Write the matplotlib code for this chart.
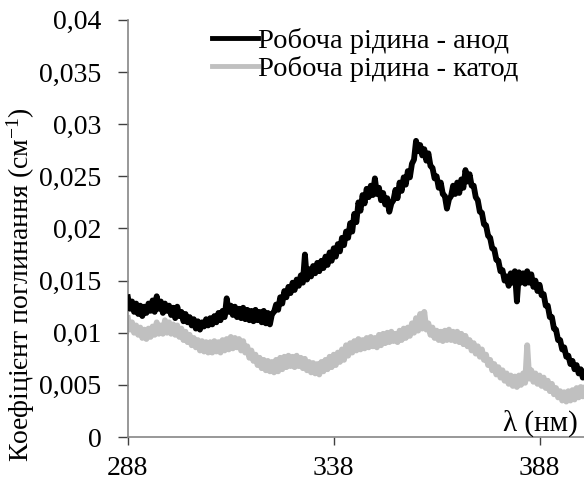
import numpy as np
import matplotlib
matplotlib.use("Agg")
import matplotlib.pyplot as plt

plt.rcParams['font.family'] = 'serif'
plt.rcParams['font.serif'] = ['Liberation Serif', 'DejaVu Serif']
plt.rcParams['mathtext.fontset'] = 'custom'
plt.rcParams['mathtext.rm'] = 'Liberation Serif'
plt.rcParams['mathtext.it'] = 'Liberation Serif:italic'
plt.rcParams['path.simplify'] = False
FONT = 'Liberation Serif'

wavelength = np.arange(288.0, 399.01, 0.5)

anode = [
    0.0134, 0.0123, 0.0130, 0.0120, 0.0128, 0.0118, 0.0126, 0.0116, 0.0125, 0.0119,
    0.0128, 0.0121, 0.0131, 0.0120, 0.0135, 0.0123, 0.0130, 0.0119, 0.0128, 0.0121,
    0.0126, 0.0117, 0.0124, 0.0114, 0.0125, 0.0116, 0.0120, 0.0111, 0.0118, 0.0110,
    0.0115, 0.0107, 0.0113, 0.0104, 0.0111, 0.0103, 0.0110, 0.0106, 0.0113, 0.0107,
    0.0114, 0.0108, 0.0116, 0.0110, 0.0119, 0.0112, 0.0121, 0.0115, 0.0133, 0.0120,
    0.0126, 0.0117, 0.0125, 0.0115, 0.0123, 0.0114, 0.0124, 0.0113, 0.0122, 0.0112,
    0.0121, 0.0111, 0.0122, 0.0112, 0.0120, 0.0110, 0.0121, 0.0109, 0.0119, 0.0108,
    0.0118, 0.0120, 0.0127, 0.0122, 0.0134, 0.0128, 0.0140, 0.0134, 0.0144, 0.0138,
    0.0148, 0.0141, 0.0151, 0.0145, 0.0155, 0.0148, 0.0175, 0.0151, 0.0161, 0.0154,
    0.0164, 0.0157, 0.0167, 0.0159, 0.0169, 0.0162, 0.0173, 0.0165, 0.0177, 0.0169,
    0.0181, 0.0173, 0.0185, 0.0178, 0.0191, 0.0184, 0.0197, 0.0191, 0.0205, 0.0197,
    0.0214, 0.0206, 0.0225, 0.0217, 0.0232, 0.0224, 0.0238, 0.0230, 0.0241, 0.0232,
    0.0248, 0.0233, 0.0239, 0.0227, 0.0234, 0.0223, 0.0229, 0.0216, 0.0224, 0.0227,
    0.0237, 0.0229, 0.0244, 0.0236, 0.0249, 0.0242, 0.0255, 0.0249, 0.0262, 0.0266,
    0.0284, 0.0274, 0.0280, 0.0270, 0.0276, 0.0265, 0.0272, 0.0260, 0.0258, 0.0248,
    0.0250, 0.0239, 0.0244, 0.0233, 0.0231, 0.0219, 0.0228, 0.0231, 0.0241, 0.0233,
    0.0244, 0.0234, 0.0247, 0.0239, 0.0256, 0.0245, 0.0252, 0.0241, 0.0241, 0.0230,
    0.0227, 0.0216, 0.0215, 0.0204, 0.0203, 0.0193, 0.0191, 0.0181, 0.0180, 0.0170,
    0.0169, 0.0159, 0.0160, 0.0150, 0.0154, 0.0145, 0.0157, 0.0148, 0.0159, 0.0130,
    0.0158, 0.0148, 0.0157, 0.0147, 0.0159, 0.0148, 0.0156, 0.0144, 0.0150, 0.0140,
    0.0146, 0.0136, 0.0137, 0.0126, 0.0126, 0.0115, 0.0115, 0.0104, 0.0103, 0.0093,
    0.0093, 0.0084, 0.0086, 0.0077, 0.0078, 0.0070, 0.0073, 0.0065, 0.0069, 0.0061,
    0.0065, 0.0057, 0.0062,
]

cathode = [
    0.0114, 0.0103, 0.0110, 0.0100, 0.0107, 0.0098, 0.0105, 0.0095, 0.0103, 0.0094,
    0.0104, 0.0096, 0.0106, 0.0098, 0.0110, 0.0099, 0.0107, 0.0099, 0.0112, 0.0100,
    0.0110, 0.0099, 0.0108, 0.0098, 0.0107, 0.0096, 0.0104, 0.0093, 0.0101, 0.0091,
    0.0098, 0.0088, 0.0095, 0.0086, 0.0093, 0.0083, 0.0092, 0.0082, 0.0091, 0.0081,
    0.0091, 0.0081, 0.0092, 0.0082, 0.0091, 0.0081, 0.0093, 0.0083, 0.0094, 0.0084,
    0.0096, 0.0085, 0.0095, 0.0086, 0.0094, 0.0083, 0.0092, 0.0081, 0.0087, 0.0076,
    0.0083, 0.0073, 0.0079, 0.0069, 0.0076, 0.0066, 0.0074, 0.0064, 0.0073, 0.0063,
    0.0072, 0.0062, 0.0074, 0.0063, 0.0076, 0.0065, 0.0077, 0.0067, 0.0078, 0.0068,
    0.0077, 0.0067, 0.0078, 0.0068, 0.0076, 0.0066, 0.0075, 0.0064, 0.0072, 0.0062,
    0.0071, 0.0061, 0.0070, 0.0060, 0.0072, 0.0063, 0.0074, 0.0065, 0.0077, 0.0067,
    0.0079, 0.0069, 0.0081, 0.0072, 0.0084, 0.0074, 0.0088, 0.0078, 0.0090, 0.0081,
    0.0092, 0.0083, 0.0094, 0.0084, 0.0093, 0.0085, 0.0095, 0.0086, 0.0096, 0.0087,
    0.0095, 0.0086, 0.0098, 0.0088, 0.0099, 0.0090, 0.0100, 0.0091, 0.0101, 0.0092,
    0.0099, 0.0091, 0.0102, 0.0093, 0.0104, 0.0095, 0.0105, 0.0097, 0.0109, 0.0100,
    0.0114, 0.0102, 0.0118, 0.0104, 0.0120, 0.0103, 0.0109, 0.0098, 0.0105, 0.0095,
    0.0102, 0.0093, 0.0101, 0.0092, 0.0102, 0.0093, 0.0103, 0.0093, 0.0101, 0.0092,
    0.0101, 0.0091, 0.0099, 0.0089, 0.0097, 0.0087, 0.0093, 0.0083, 0.0090, 0.0080,
    0.0087, 0.0077, 0.0084, 0.0074, 0.0079, 0.0069, 0.0074, 0.0064, 0.0070, 0.0060,
    0.0067, 0.0057, 0.0064, 0.0054, 0.0061, 0.0051, 0.0059, 0.0049, 0.0058, 0.0048,
    0.0059, 0.0050, 0.0061, 0.0052, 0.0088, 0.0056, 0.0064, 0.0053, 0.0061, 0.0051,
    0.0059, 0.0049, 0.0057, 0.0047, 0.0054, 0.0044, 0.0051, 0.0041, 0.0047, 0.0038,
    0.0044, 0.0035, 0.0043, 0.0034, 0.0044, 0.0035, 0.0045, 0.0036, 0.0047, 0.0038,
    0.0048, 0.0039, 0.0047,
]

series_labels = ["Робоча рідина - анод", "Робоча рідина - катод"]
x_ticks = [288, 338, 388]
y_ticks = [0, 0.005, 0.01, 0.015, 0.02, 0.025, 0.03, 0.035, 0.04]
y_tick_labels = ["0", "0,005", "0,01", "0,015", "0,02", "0,025", "0,03", "0,035", "0,04"]

fig = plt.figure(figsize=(5.84, 4.84), dpi=100)
ax = fig.add_axes([0.219, 0.097, 0.781, 0.862])

ax.plot(wavelength, cathode, color="#c0c0c0", lw=4.2, label=series_labels[1], zorder=2)
ax.plot(wavelength, anode, color="black", lw=4.2, label=series_labels[0], zorder=3)

ax.set_xlim(288, 398.8)
ax.set_ylim(0, 0.04)
ax.set_xticks(x_ticks)
ax.set_xticklabels([str(t) for t in x_ticks], fontfamily=FONT, fontsize=20)
ax.set_yticks(y_ticks)
ax.set_yticklabels(y_tick_labels, fontfamily=FONT, fontsize=20)

for s in ["top", "right"]:
    ax.spines[s].set_visible(False)
for s in ["left", "bottom"]:
    ax.spines[s].set_color("#868686")
    ax.spines[s].set_linewidth(1.2)

ax.tick_params(axis="both", colors="#404040", labelcolor="black",
               direction="out", width=1.0)
ax.tick_params(axis="y", length=7, pad=12)
ax.tick_params(axis="x", length=6, pad=8)

ax.text(0.986, 0.0, "λ (нм)", transform=ax.transAxes, ha="right", va="bottom",
        fontsize=21, fontfamily=FONT)
fig.text(0.036, 0.413, "Коефіцієнт поглинання (см$^{-1}$)", rotation=90,
         ha="center", va="center", fontsize=20, fontfamily=FONT)

handles, labels = ax.get_legend_handles_labels()
leg = ax.legend(handles[::-1], labels[::-1], loc="upper left",
                bbox_to_anchor=(0.16, 1.007), frameon=False,
                prop={'family': FONT, 'size': 20.5},
                handlelength=1.6, handletextpad=0.0, labelspacing=0.05,
                borderaxespad=0)
for line in leg.get_lines():
    line.set_linewidth(3.5)

fig.savefig("out.png", dpi=100)
